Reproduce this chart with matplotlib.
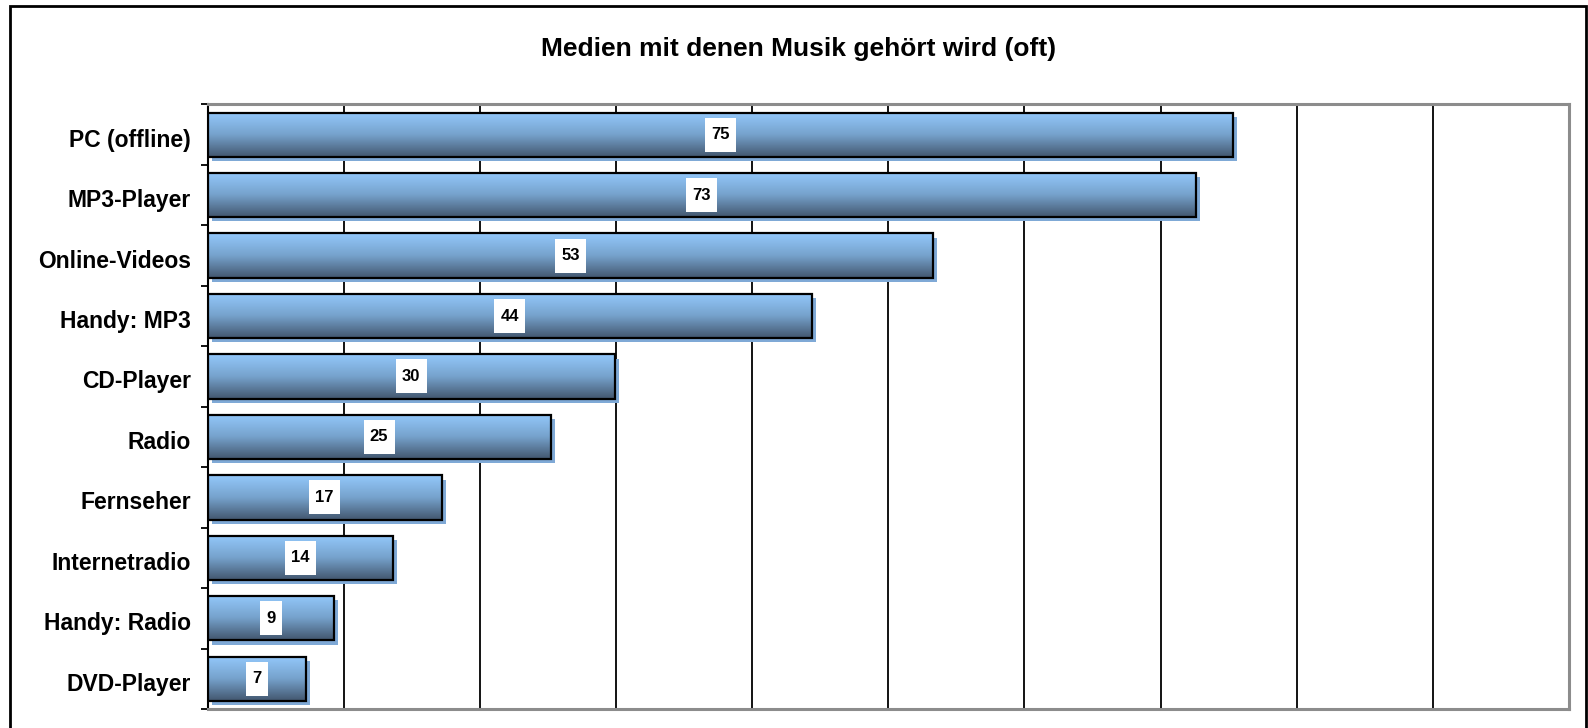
import numpy as np
import matplotlib
matplotlib.use("Agg")
import matplotlib.pyplot as plt
from matplotlib.colors import LinearSegmentedColormap
from matplotlib.patches import Rectangle
from matplotlib.transforms import ScaledTranslation
from matplotlib import patheffects as pe

# Data (bar lengths; the labels show them rounded)
categories = ["PC (offline)", "MP3-Player", "Online-Videos", "Handy: MP3", "CD-Player",
              "Radio", "Fernseher", "Internetradio", "Handy: Radio", "DVD-Player"]
values = [75.3, 72.6, 53.3, 44.4, 29.9, 25.2, 17.2, 13.6, 9.3, 7.2]
value_labels = ["75", "73", "53", "44", "30", "25", "17", "14", "9", "7"]
title = "Medien mit denen Musik gehört wird (oft)"

plt.rcParams['font.family'] = ['Liberation Sans', 'DejaVu Sans']

fig = plt.figure(figsize=(15.88, 7.28), dpi=100)
ax = fig.add_axes([0.1307, 0.026, 0.8573, 0.8306])

# outer frame round the whole chart
fig.patches.append(Rectangle((10 / 1588, -0.05), 1576 / 1588, 1 - 6 / 728 + 0.05,
                             transform=fig.transFigure, fill=False,
                             edgecolor="black", linewidth=2, zorder=0))

# vertical gradient: light blue at the top, dark slate at the bottom
cmap = LinearSegmentedColormap.from_list("barfill", ["#93c8fb", "#76a2cc", "#43576f"])
grad = np.linspace(0, 1, 100).reshape(-1, 1)

y = np.arange(len(categories))
h = 0.73

for yi, v, lab in zip(y, values, value_labels):
    # shadow, offset down and right
    shadow = ax.barh(yi, v, height=h, color="none", edgecolor="none", zorder=2)
    shadow[0].set_path_effects([pe.SimplePatchShadow(offset=(3, -3), shadow_rgbFace="#7fa9d6", alpha=1)])
    ax.imshow(grad, extent=[0, v, yi + h / 2, yi - h / 2], cmap=cmap,
              aspect="auto", zorder=3, interpolation="bilinear")
    ax.barh(yi, v, height=h, color="none", edgecolor="black", linewidth=1.6, zorder=4)
    ax.text(v / 2, yi, lab, ha="center", va="center", fontsize=12, fontweight="bold",
            zorder=5, bbox=dict(boxstyle="square,pad=0.38", facecolor="white",
                                edgecolor="none", mutation_aspect=1.5))

ax.set_xlim(0, 100)
ax.set_ylim(len(categories) - 0.5, -0.5)

# vertical grid every 10
ax.set_xticks(np.arange(0, 101, 10))
ax.tick_params(axis="x", length=0, labelbottom=False)
ax.grid(axis="x", color="black", linewidth=1.3, zorder=1)
ax.set_axisbelow(True)

# category ticks on the boundaries, labels in the middle
ax.set_yticks(np.arange(-0.5, len(categories), 1))
ax.set_yticklabels([])
ax.tick_params(axis="y", which="major", length=5, width=1.3, direction="out")
ax.set_yticks(y, minor=True)
ax.set_yticklabels(categories, minor=True, fontsize=16.5, fontweight="bold")
ax.tick_params(axis="y", which="minor", length=0, pad=12)
for t in ax.get_yticklabels(minor=True):
    t.set_transform(t.get_transform() + ScaledTranslation(0, -0.03, fig.dpi_scale_trans))

ax.spines["left"].set_color("black")
ax.spines["left"].set_linewidth(1.5)
for s in ["top", "right", "bottom"]:
    ax.spines[s].set_color("#8c8c8c")
    ax.spines[s].set_linewidth(2.2)

fig.text(0.503, 1 - 49 / 728, title, ha="center", va="center", fontsize=19, fontweight="bold")

fig.savefig("out.png", dpi=100)
